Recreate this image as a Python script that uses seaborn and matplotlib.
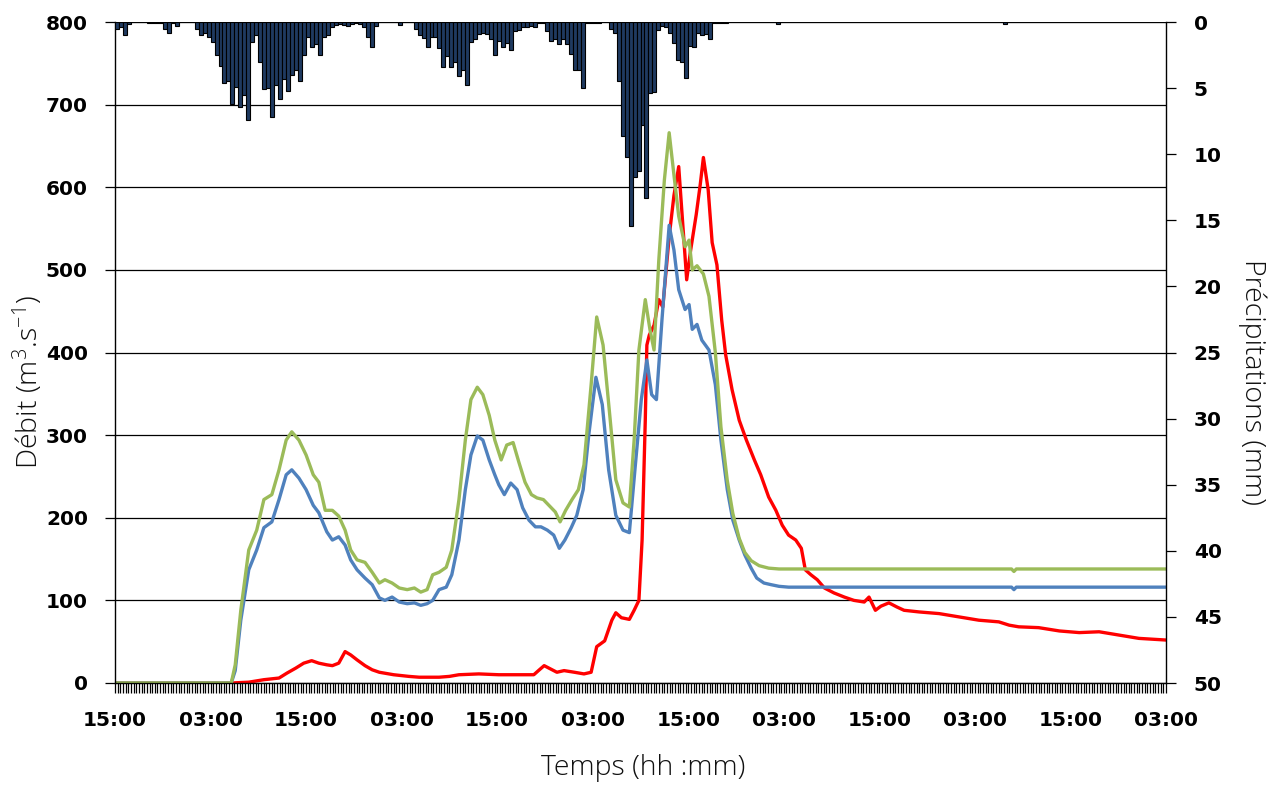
import numpy as np
import pandas as pd
import matplotlib
matplotlib.use("Agg")
import matplotlib.pyplot as plt
import seaborn as sns
from matplotlib.ticker import MultipleLocator

# ---------------- data (time in hours since the first 15:00) ----------------
rain_mm = [
    0.5, 0.4, 1.0, 0.15, 0, 0, 0, 0, 0.1, 0.1, 0.1, 0.1,
    0.5, 0.8, 0.1, 0.3, 0, 0, 0, 0, 0.5, 1.0, 0.85, 1.1,
    1.5, 2.5, 3.3, 4.6, 4.5, 6.2, 4.9, 6.4, 5.5, 7.4, 1.5, 1.0,
    3.0, 5.1, 5.0, 7.2, 4.8, 5.8, 4.3, 5.2, 4.0, 3.6, 4.5, 2.5,
    1.1, 1.9, 1.7, 2.5, 1.1, 1.0, 0.35, 0.2, 0.15, 0.2, 0.3, 0.15,
    0.1, 0.15, 0.35, 1.1, 1.9, 0.3, 0, 0, 0, 0, 0, 0.2,
    0, 0, 0, 0.5, 1.0, 1.2, 1.9, 1.1, 1.1, 2.0, 3.4, 2.6,
    3.4, 3.0, 4.1, 3.6, 4.8, 1.5, 1.3, 0.9, 0.85, 0.9, 1.3, 2.5,
    1.4, 1.9, 1.6, 2.1, 0.65, 0.6, 0.35, 0.4, 0.3, 0.4, 0.05, 0.05,
    0.7, 1.4, 1.3, 1.7, 1.3, 1.7, 2.4, 3.6, 3.6, 5.0, 0.05, 0.05,
    0.05, 0.05, 0, 0, 0.5, 0.85, 4.5, 8.6, 10.2, 15.4, 11.7, 11.3,
    7.8, 13.3, 5.4, 5.3, 0.6, 0.3, 0.4, 0.85, 1.6, 2.9, 3.0, 4.2,
    1.8, 1.9, 0.85, 1.0, 0.9, 1.3, 0.1, 0.1, 0.1, 0.1, 0, 0,
    0, 0, 0, 0, 0, 0, 0, 0, 0, 0, 0.15, 0,
    0, 0, 0, 0, 0, 0, 0, 0, 0, 0, 0, 0,
    0, 0, 0, 0, 0, 0, 0, 0, 0, 0, 0, 0,
    0, 0, 0, 0, 0, 0, 0, 0, 0, 0, 0, 0,
    0, 0, 0, 0, 0, 0, 0, 0, 0, 0, 0, 0,
    0, 0, 0, 0, 0, 0, 0, 0.15, 0, 0, 0, 0,
    0, 0, 0, 0, 0, 0, 0, 0, 0, 0, 0, 0,
    0, 0, 0, 0, 0, 0, 0, 0, 0, 0, 0, 0,
    0, 0, 0, 0, 0, 0, 0, 0, 0, 0, 0, 0,
]
rain_step_h = 0.5

blue_pts = [
    (0, 0), (14.6, 0), (15.1, 15), (15.8, 76), (16.8, 137), (17.8, 161), (18.7, 188),
    (19.7, 195), (20.6, 222), (21.5, 252), (22.2, 258), (23.1, 248), (24.0, 234),
    (24.9, 215), (25.6, 206), (26.6, 183), (27.3, 173), (28.1, 177), (28.9, 167),
    (29.6, 149), (30.4, 137), (31.4, 127), (32.3, 119), (33.2, 103), (33.9, 100),
    (34.8, 104), (35.7, 98), (36.7, 96), (37.6, 97), (38.4, 94), (39.2, 96),
    (39.9, 100), (40.7, 113), (41.6, 116), (42.3, 131), (43.2, 173), (44.0, 234),
    (44.7, 276), (45.5, 299), (46.2, 294), (47.0, 270), (47.7, 252), (48.2, 240),
    (48.9, 228), (49.7, 242), (50.5, 234), (51.2, 212), (52.0, 197), (52.8, 189),
    (53.5, 189), (54.3, 185), (55.1, 179), (55.8, 163), (56.5, 173), (57.3, 188),
    (58.0, 203), (58.8, 234), (59.5, 300), (60.4, 370), (61.2, 337), (62.0, 258),
    (62.9, 203), (63.8, 185), (64.6, 182), (65.3, 258), (66.1, 343), (66.8, 391),
    (67.4, 349), (68.0, 343), (68.7, 440), (69.6, 554), (70.2, 524), (70.8, 476),
    (71.6, 452), (72.1, 458), (72.5, 428), (73.1, 434), (73.7, 415), (74.6, 403),
    (75.4, 361), (76.1, 294), (76.9, 234), (77.6, 197), (78.4, 173), (79.1, 155),
    (79.9, 139), (80.6, 127), (81.5, 121), (82.4, 119), (83.4, 117), (84.6, 116),
    (112.6, 116), (112.9, 113), (113.2, 116), (132, 116),
]

green_pts = [
    (0, 0), (14.6, 0), (15.1, 22), (15.8, 88), (16.8, 161), (17.8, 185), (18.7, 222),
    (19.7, 228), (20.6, 258), (21.5, 294), (22.2, 304), (23.1, 294), (24.0, 276),
    (24.9, 252), (25.6, 243), (26.4, 209), (27.3, 209), (28.1, 202), (28.9, 185),
    (29.6, 161), (30.4, 149), (31.4, 146), (32.3, 134), (33.2, 121), (33.9, 125),
    (34.8, 121), (35.7, 115), (36.7, 113), (37.6, 115), (38.4, 110), (39.2, 113),
    (39.9, 131), (40.7, 134), (41.6, 140), (42.3, 161), (43.2, 222), (44.0, 294),
    (44.7, 343), (45.5, 358), (46.2, 349), (47.0, 324), (47.7, 294), (48.5, 270),
    (49.2, 288), (50.0, 291), (50.7, 268), (51.5, 243), (52.3, 228), (53.0, 224),
    (53.8, 222), (54.5, 215), (55.3, 207), (55.9, 195), (56.6, 209), (57.4, 222),
    (58.2, 234), (58.9, 264), (59.8, 361), (60.5, 443), (61.3, 409), (62.2, 318),
    (62.9, 246), (63.8, 218), (64.6, 213), (65.2, 294), (65.8, 403), (66.6, 464),
    (67.2, 427), (67.7, 403), (68.3, 512), (69.0, 609), (69.6, 666), (70.2, 615),
    (70.8, 565), (71.6, 528), (72.1, 536), (72.5, 500), (73.1, 505), (73.9, 495),
    (74.6, 468), (75.4, 400), (76.1, 310), (76.9, 245), (77.6, 205), (78.4, 175),
    (79.1, 158), (79.9, 148), (80.9, 142), (82.1, 139), (83.4, 138), (84.6, 138),
    (112.6, 138), (112.9, 135), (113.2, 138), (132, 138),
]

red_pts = [
    (0, 0), (14.6, 0), (16.8, 1), (18.7, 4), (20.6, 6), (21.6, 12), (22.7, 18),
    (23.7, 24), (24.7, 27), (25.6, 24), (26.6, 22), (27.3, 21), (28.1, 24),
    (28.9, 38), (29.6, 34), (30.4, 28), (31.4, 21), (32.3, 16), (33.2, 13),
    (35.0, 10), (36.9, 8), (38.2, 7), (40.7, 7), (42.0, 8), (43.2, 10), (45.7, 11),
    (48.2, 10), (50.7, 10), (52.6, 10), (53.3, 16), (53.9, 21), (54.5, 18),
    (55.5, 13), (56.4, 15), (57.7, 13), (58.9, 11), (59.8, 13), (60.5, 44),
    (61.5, 51), (62.4, 76), (62.9, 85), (63.6, 79), (64.6, 77), (65.2, 88),
    (65.8, 100), (66.2, 173), (66.6, 318), (66.8, 409), (67.1, 421), (67.7, 433),
    (68.3, 464), (68.8, 455), (69.6, 540), (70.2, 590), (70.8, 625), (71.8, 488),
    (72.3, 524), (73.0, 567), (73.5, 603), (73.9, 636), (74.5, 597), (75.0, 533),
    (75.6, 506), (76.2, 439), (76.7, 397), (77.5, 355), (78.4, 318), (79.3, 294),
    (80.3, 270), (81.1, 252), (82.1, 225), (83.0, 209), (83.8, 191), (84.6, 179),
    (85.5, 173), (86.2, 163), (86.7, 137), (87.4, 131), (88.2, 125), (89.1, 115),
    (90.3, 109), (91.6, 104), (92.8, 100), (94.1, 98), (94.7, 104), (95.5, 88),
    (96.2, 93), (97.2, 97), (98.2, 92), (99.1, 88), (101.0, 86), (103.5, 84),
    (106.0, 80), (108.5, 76), (111.0, 74), (112.3, 70), (113.5, 68), (116.0, 67),
    (118.6, 63), (121.1, 61), (123.6, 62), (126.1, 58), (128.6, 54), (132, 52),
]

x_tick_hours = [0, 12, 24, 36, 48, 60, 72, 84, 96, 108, 120, 132]
x_tick_labels = ["15:00", "03:00", "15:00", "03:00", "15:00", "03:00",
                 "15:00", "03:00", "15:00", "03:00", "15:00", "03:00"]
q_ticks = [0, 100, 200, 300, 400, 500, 600, 700, 800]
p_ticks = [0, 5, 10, 15, 20, 25, 30, 35, 40, 45, 50]

# ---------------- style ----------------
sns.set_theme(style="white")
plt.rcParams["font.family"] = ["DejaVu Sans"]
plt.rcParams["mathtext.default"] = "regular"
BLUE = "#4F81BD"
GREEN = "#9BBB59"
RED = "#FF0000"
BAR = "#1F3A60"

W, H = 1269, 785
fig = plt.figure(figsize=(W / 100, H / 100), dpi=100)
L, R, T, B = 115, 1166, 22, 683
ax = fig.add_axes([L / W, 1 - B / H, (R - L) / W, (B - T) / H])
ax2 = ax.twinx()

# rainfall bars (hanging from the top, inverted right axis)
rain_df = pd.DataFrame({
    "t": np.arange(len(rain_mm)) * rain_step_h + rain_step_h / 2,
    "mm": np.asarray(rain_mm, dtype=float),
})
sns.histplot(data=rain_df, x="t", weights="mm", binwidth=rain_step_h,
             binrange=(0, len(rain_mm) * rain_step_h), ax=ax2, color=BAR,
             edgecolor="black", linewidth=0.8, alpha=1.0)

# discharge lines
for pts, col in [(red_pts, RED), (blue_pts, BLUE), (green_pts, GREEN)]:
    df = pd.DataFrame(pts, columns=["t", "q"])
    sns.lineplot(data=df, x="t", y="q", ax=ax, color=col, linewidth=2.4,
                 estimator=None, sort=False)

# ---------------- axes ----------------
ax.set_xlim(0, 132)
ax.set_ylim(0, 800)
ax2.set_ylim(50, 0)
ax2.set_xlim(0, 132)

TICK_FS = 14.5
ax.set_yticks(q_ticks)
ax.set_yticklabels([str(v) for v in q_ticks], fontsize=TICK_FS, fontweight="bold")
ax.set_xticks(x_tick_hours)
ax.set_xticklabels(x_tick_labels, fontsize=TICK_FS, fontweight="bold")
ax.xaxis.set_minor_locator(MultipleLocator(1 / 3))
ax2.set_yticks(p_ticks)
ax2.set_yticklabels([str(v) for v in p_ticks], fontsize=TICK_FS, fontweight="bold")

ax.yaxis.grid(True, color="black", linewidth=0.9)
ax.xaxis.grid(False)
ax2.grid(False)
ax.set_axisbelow(True)

ax.tick_params(axis="x", which="both", direction="out", length=7, width=0.9,
               bottom=True, color="black", pad=13, labelcolor="black")
ax.tick_params(axis="y", which="major", direction="out", length=7.5, width=0.9,
               left=True, color="black", pad=12, labelcolor="black")
ax2.tick_params(axis="y", which="major", direction="out", length=7, width=0.9,
                right=True, color="black", pad=13, labelcolor="black")

for a in (ax, ax2):
    for s in a.spines.values():
        s.set_visible(False)
ax.spines["left"].set_visible(True)
ax.spines["bottom"].set_visible(True)
ax2.spines["right"].set_visible(True)
for s in (ax.spines["left"], ax.spines["bottom"], ax2.spines["right"]):
    s.set_color("black")
    s.set_linewidth(1.0)

ax.set_xlabel("")
ax.set_ylabel("")
ax2.set_ylabel("")
ax2.set_xlabel("")

lab_font = dict(family=["Open Sans", "DejaVu Sans"], fontweight="light",
                fontsize=20.5, color="#111111")
fig.text(28 / W, 1 - 382 / H, "Débit (m$^{3}$.s$^{-1}$)", rotation=90,
         ha="center", va="center", **lab_font)
fig.text(1252 / W, 1 - 382 / H, "Précipitations (mm)", rotation=270,
         ha="center", va="center", **lab_font)
fig.text(643 / W, 1 - 768 / H, "Temps (hh :mm)", ha="center", va="center",
         **lab_font)

fig.savefig("out.png", dpi=100)
